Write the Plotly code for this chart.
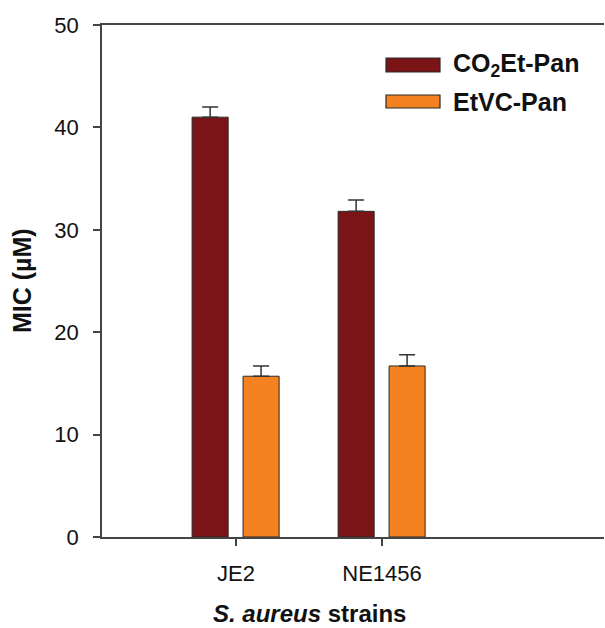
import plotly.graph_objects as go

# ---- data ----
strains = ["JE2", "NE1456"]
strain_pos = [0, 1]
co2et_pan = [41.0, 31.8]
co2et_pan_err = [1.0, 1.1]
etvc_pan = [15.7, 16.7]
etvc_pan_err = [1.0, 1.1]
series_names = ["CO<sub>2</sub>Et-Pan", "EtVC-Pan"]
y_ticks = [0, 10, 20, 30, 40, 50]

MAROON = "#7B1416"
ORANGE = "#F58220"
EDGE = "#2a2a2a"
AXC = "#444444"
FONT = "Liberation Sans, Arial, sans-serif"

W, H = 605, 628
L, R, T, B = 102, 1, 25, 91
PW, PH = W - L - R, H - T - B


def px_x(p):
    return (p - L) / PW


def px_y(p):
    return (H - B - p) / PH


fig = go.Figure()
fig.add_trace(go.Bar(
    x=strain_pos, y=co2et_pan, width=0.247, offset=-0.301,
    marker=dict(color=MAROON, line=dict(color=EDGE, width=1)),
    error_y=dict(type="data", symmetric=False, array=co2et_pan_err,
                 arrayminus=[0, 0], color="#333333", thickness=1.5, width=8),
    showlegend=False,
))
fig.add_trace(go.Bar(
    x=strain_pos, y=etvc_pan, width=0.247, offset=0.048,
    marker=dict(color=ORANGE, line=dict(color=EDGE, width=1)),
    error_y=dict(type="data", symmetric=False, array=etvc_pan_err,
                 arrayminus=[0, 0], color="#333333", thickness=1.5, width=8),
    showlegend=False,
))

# custom legend
shapes = []
annotations = []
legend_rows = [(58, 72, MAROON, series_names[0], 65), (95, 108, ORANGE, series_names[1], 101.5)]
for y0, y1, col, name, yc in legend_rows:
    shapes.append(dict(type="rect", xref="paper", yref="paper",
                       x0=px_x(386), x1=px_x(440), y0=px_y(y1), y1=px_y(y0),
                       fillcolor=col, line=dict(color=EDGE, width=1.2)))
    annotations.append(dict(xref="paper", yref="paper", x=px_x(451), y=px_y(yc),
                            xanchor="left", yanchor="middle", showarrow=False,
                            text="<b>" + name + "</b>",
                            font=dict(family=FONT, size=25, color="#111111")))

# axis titles
annotations.append(dict(xref="paper", yref="paper", x=px_x(309), y=px_y(613),
                        xanchor="center", yanchor="middle", showarrow=False,
                        text="<b><i>S. aureus</i> strains</b>",
                        font=dict(family=FONT, size=24, color="#111111")))
annotations.append(dict(xref="paper", yref="paper", x=px_x(22), y=px_y(281),
                        xanchor="center", yanchor="middle", showarrow=False,
                        textangle=-90, text="<b>MIC (µM)</b>",
                        font=dict(family=FONT, size=25, color="#111111")))

fig.update_layout(
    width=W, height=H,
    margin=dict(l=L, r=R, t=T, b=B, pad=0),
    paper_bgcolor="white", plot_bgcolor="white",
    barmode="overlay",
    shapes=shapes, annotations=annotations,
    font=dict(family=FONT, size=22, color="#111111"),
    xaxis=dict(range=[-0.918, 2.52], tickvals=strain_pos, ticktext=strains,
               ticks="outside", ticklen=7, tickwidth=1.5, tickcolor=AXC,
               showline=True, linecolor=AXC, linewidth=1.5, mirror=True,
               showgrid=False, zeroline=False, ticklabelstandoff=9,
               tickfont=dict(size=22)),
    yaxis=dict(range=[0, 50], tickvals=y_ticks,
               ticks="outside", ticklen=7, tickwidth=1.5, tickcolor=AXC,
               showline=True, linecolor=AXC, linewidth=1.5,
               showgrid=False, zeroline=False, ticklabelstandoff=10,
               tickfont=dict(size=22)),
)

fig.write_html("out.html")
